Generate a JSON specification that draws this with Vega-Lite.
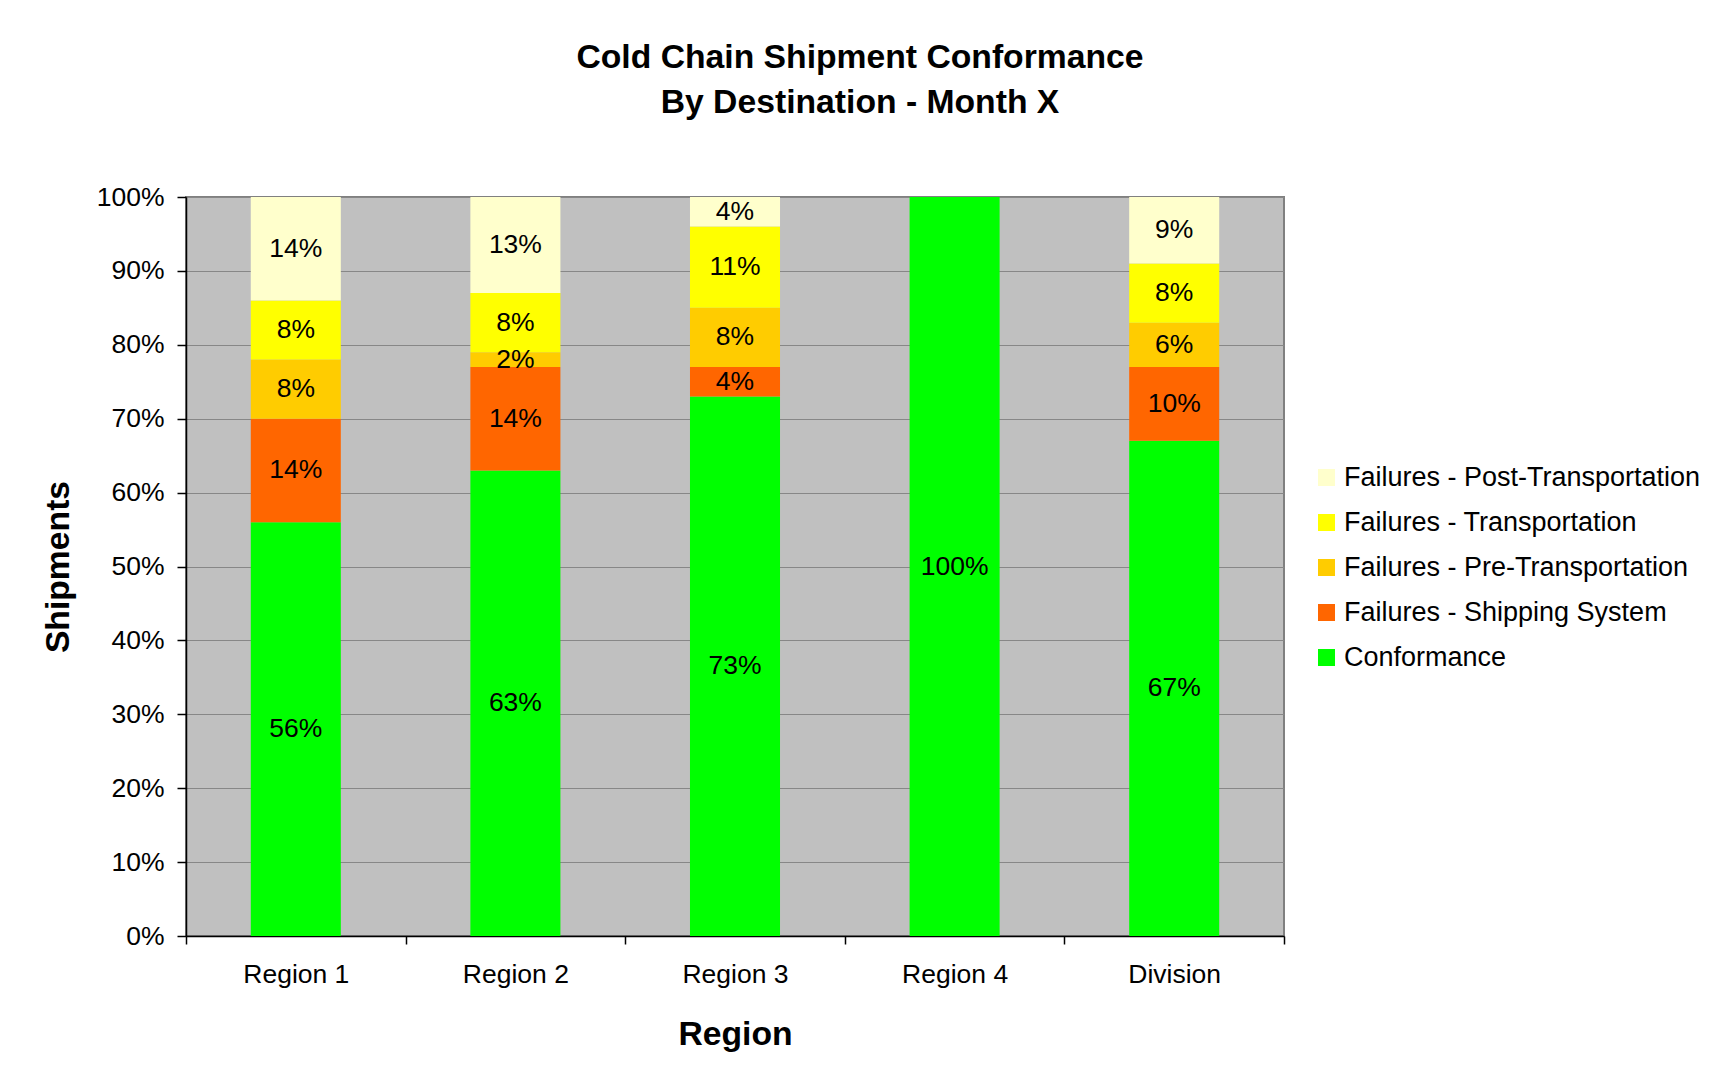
{
  "$schema": "https://vega.github.io/schema/vega-lite/v6.json",
  "width": 1098,
  "height": 739,
  "autosize": {"type": "none"},
  "padding": {"left": 186, "top": 197, "right": 433, "bottom": 147},
  "background": "white",
  "config": {
    "font": "Liberation Sans",
    "view": {"fill": "#C0C0C0", "stroke": "#808080", "strokeWidth": 2}
  },
  "title": {
    "text": ["Cold Chain Shipment Conformance", "By Destination - Month X"],
    "font": "Liberation Sans",
    "fontSize": 33.7,
    "fontWeight": "bold",
    "lineHeight": 45,
    "anchor": "middle",
    "dx": 125,
    "offset": 64,
    "color": "black"
  },
  "data": {
    "values": [
      {"region": "Region 1", "series": "Conformance", "value": 0.56},
      {"region": "Region 1", "series": "Failures - Shipping System", "value": 0.14},
      {"region": "Region 1", "series": "Failures - Pre-Transportation", "value": 0.08},
      {"region": "Region 1", "series": "Failures - Transportation", "value": 0.08},
      {"region": "Region 1", "series": "Failures - Post-Transportation", "value": 0.14},
      {"region": "Region 2", "series": "Conformance", "value": 0.63},
      {"region": "Region 2", "series": "Failures - Shipping System", "value": 0.14},
      {"region": "Region 2", "series": "Failures - Pre-Transportation", "value": 0.02},
      {"region": "Region 2", "series": "Failures - Transportation", "value": 0.08},
      {"region": "Region 2", "series": "Failures - Post-Transportation", "value": 0.13},
      {"region": "Region 3", "series": "Conformance", "value": 0.73},
      {"region": "Region 3", "series": "Failures - Shipping System", "value": 0.04},
      {"region": "Region 3", "series": "Failures - Pre-Transportation", "value": 0.08},
      {"region": "Region 3", "series": "Failures - Transportation", "value": 0.11},
      {"region": "Region 3", "series": "Failures - Post-Transportation", "value": 0.04},
      {"region": "Region 4", "series": "Conformance", "value": 1.0},
      {"region": "Region 4", "series": "Failures - Shipping System", "value": 0},
      {"region": "Region 4", "series": "Failures - Pre-Transportation", "value": 0},
      {"region": "Region 4", "series": "Failures - Transportation", "value": 0},
      {"region": "Region 4", "series": "Failures - Post-Transportation", "value": 0},
      {"region": "Division", "series": "Conformance", "value": 0.67},
      {"region": "Division", "series": "Failures - Shipping System", "value": 0.10},
      {"region": "Division", "series": "Failures - Pre-Transportation", "value": 0.06},
      {"region": "Division", "series": "Failures - Transportation", "value": 0.08},
      {"region": "Division", "series": "Failures - Post-Transportation", "value": 0.09}
    ]
  },
  "transform": [
    {"calculate": "indexof(['Conformance','Failures - Shipping System','Failures - Pre-Transportation','Failures - Transportation','Failures - Post-Transportation'], datum.series)", "as": "k"},
    {"stack": "value", "groupby": ["region"], "sort": [{"field": "k", "order": "ascending"}], "as": ["v0", "v1"]},
    {"calculate": "(datum.v0 + datum.v1) / 2", "as": "mid"}
  ],
  "encoding": {
    "x": {
      "field": "region",
      "type": "nominal",
      "sort": ["Region 1", "Region 2", "Region 3", "Region 4", "Division"],
      "scale": {"paddingInner": 0, "paddingOuter": 0},
      "axis": {
        "title": "Region",
        "titleFont": "Liberation Sans",
        "titleFontSize": 33.7,
        "titleFontWeight": "bold",
        "titleColor": "black",
        "titlePadding": 30,
        "labelAngle": 0,
        "labelFont": "Liberation Sans",
        "labelFontSize": 26.5,
        "labelColor": "black",
        "labelPadding": 17,
        "tickBand": "extent",
        "tickSize": 8,
        "tickColor": "black",
        "tickWidth": 1.5,
        "domainColor": "black",
        "domainWidth": 1.5,
        "grid": false
      }
    }
  },
  "layer": [
    {
      "mark": {"type": "bar", "width": {"band": 0.41}},
      "encoding": {
        "y": {
          "field": "v0",
          "type": "quantitative",
          "scale": {"domain": [0, 1], "nice": false},
          "axis": {
            "title": "Shipments",
            "titleFont": "Liberation Sans",
            "titleFontSize": 33.7,
            "titleFontWeight": "bold",
            "titleColor": "black",
            "titlePadding": 21,
            "format": ".0%",
            "values": [0, 0.1, 0.2, 0.3, 0.4, 0.5, 0.6, 0.7, 0.8, 0.9, 1.0],
            "labelFont": "Liberation Sans",
            "labelFontSize": 26.5,
            "labelColor": "black",
            "labelPadding": 13,
            "tickSize": 9,
            "tickColor": "black",
            "tickWidth": 1.5,
            "domainColor": "black",
            "domainWidth": 1.5,
            "grid": true,
            "gridColor": "#878787",
            "gridWidth": 1
          }
        },
        "y2": {"field": "v1"},
        "color": {
          "field": "series",
          "type": "nominal",
          "scale": {
            "domain": ["Failures - Post-Transportation", "Failures - Transportation", "Failures - Pre-Transportation", "Failures - Shipping System", "Conformance"],
            "range": ["#FFFFCC", "#FFFF00", "#FFCC00", "#FF6600", "#00FF00"]
          },
          "legend": {
            "title": null,
            "orient": "none",
            "legendX": 1127,
            "legendY": 267,
            "padding": 0,
            "labelFont": "Liberation Sans",
            "labelFontSize": 27,
            "labelColor": "black",
            "labelLimit": 0,
            "labelOffset": 4,
            "symbolType": "square",
            "symbolSize": 289,
            "symbolStrokeWidth": 0,
            "symbolOpacity": 1,
            "rowPadding": 17
          }
        }
      }
    },
    {
      "transform": [{"filter": "datum.value > 0"}],
      "mark": {"type": "text", "font": "Liberation Sans", "fontSize": 26.5, "color": "black", "baseline": "middle", "align": "center"},
      "encoding": {
        "y": {"field": "mid", "type": "quantitative"},
        "text": {"field": "value", "type": "quantitative", "format": ".0%"}
      }
    }
  ]
}
